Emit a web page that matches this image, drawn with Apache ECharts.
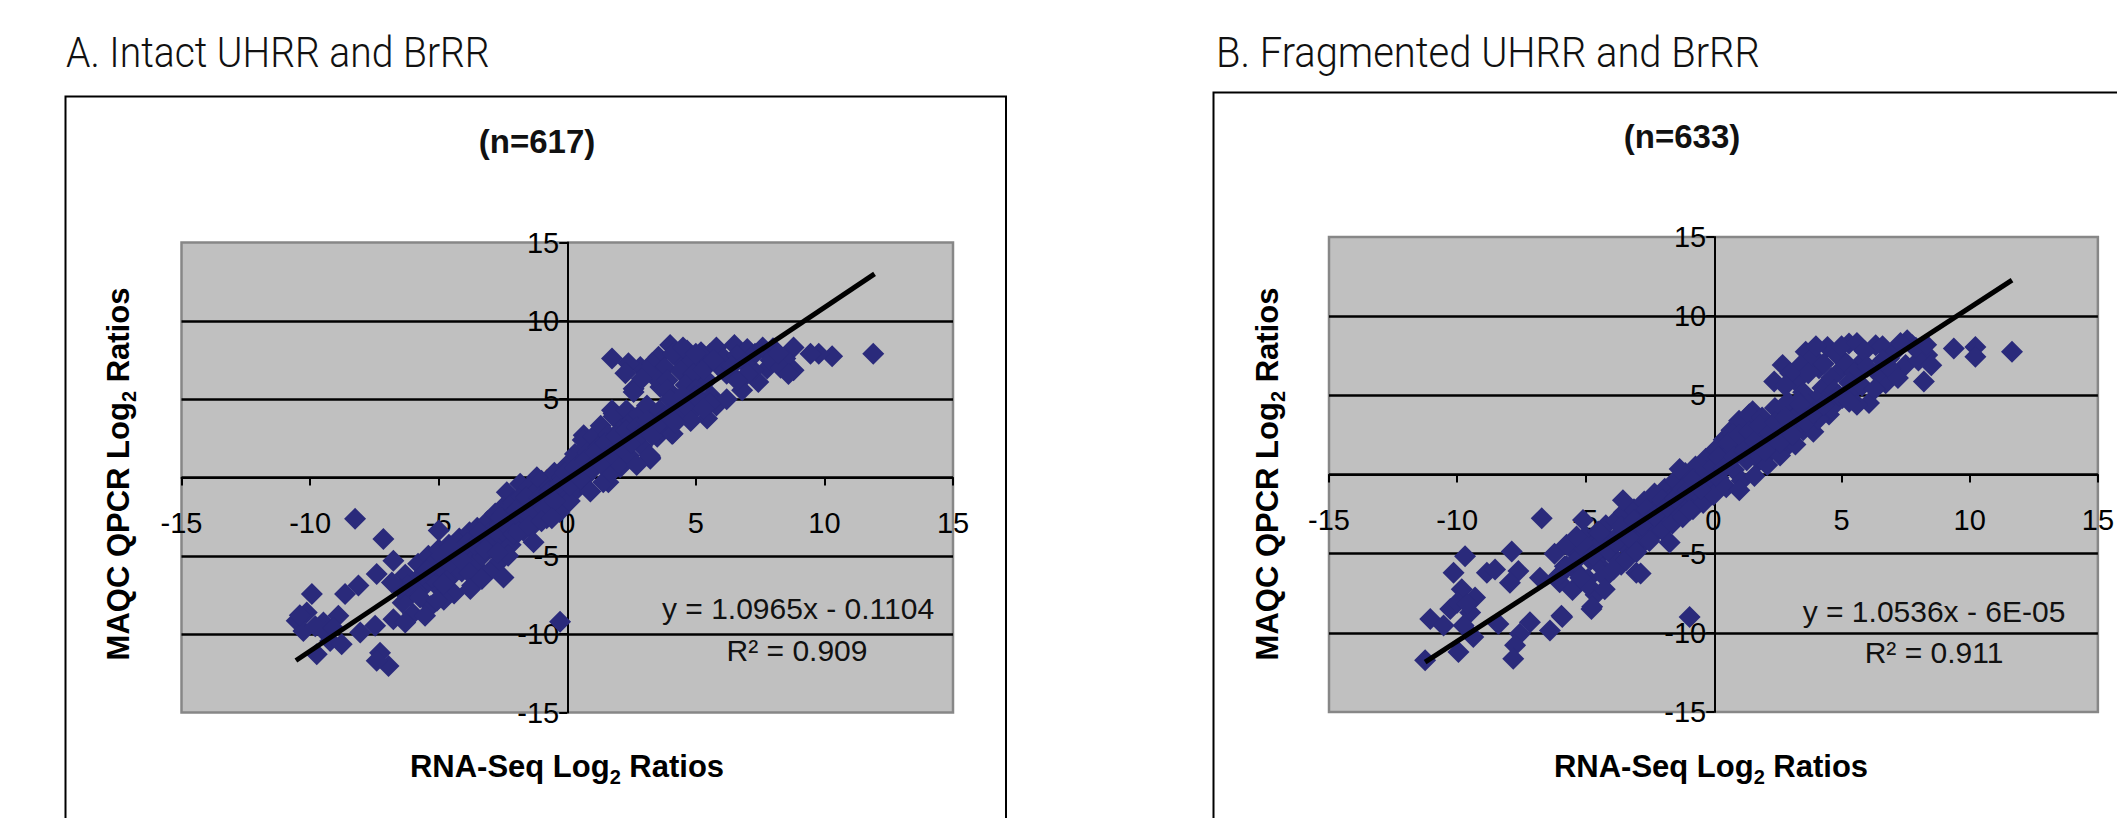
<!DOCTYPE html>
<html>
<head>
<meta charset="utf-8">
<script src="https://cdn.jsdelivr.net/npm/echarts@6.0.0/dist/echarts.min.js"></script>
<style>
html,body{margin:0;padding:0;background:#fff;}
#chart{width:2117px;height:818px;}
</style>
</head>
<body>
<div id="chart"></div>
<script>
// ---------- data ----------
const panelTitles = ['A. Intact UHRR and BrRR', 'B. Fragmented UHRR and BrRR'];
const countLabels = ['(n=617)', '(n=633)'];
const equationLabels = ['y = 1.0965x - 0.1104', 'y = 1.0536x - 6E-05'];
const r2Labels = ['R\u00B2 = 0.909', 'R\u00B2 = 0.911'];
const axisTicks = [-15, -10, -5, 0, 5, 10, 15];
const slopes = [1.0965, 1.0536];
const intercepts = [-0.1104, -0.00006];
const trendXA = [-10.55, 11.95];
const trendXB = [-11.25, 11.65];

const pointsA = [
  // upper-right cluster
  [11.9,7.9],[10.3,7.74],[9.78,7.9],[9.46,7.9],[8.8,8.3],[8.8,6.85],[8.48,7.6],[8.0,8.25],[7.43,6.1],[6.8,5.57],
  [7.77,6.95],[7.24,6.85],[4.0,8.45],[4.66,8.1],[6.5,8.45],[7.0,8.2],[5.56,7.9],[3.55,7.7],[2.84,7.06],[2.38,7.3],
  [2.26,6.65],[2.58,5.67],[3.62,5.78],[4.07,5.25],[5.44,6.2],[6.2,6.63],[1.74,7.6],
  [3.3,7.3],[3.8,7.0],[4.3,7.6],[4.8,7.4],[5.2,8.0],[5.8,8.3],[6.1,7.6],[6.6,7.8],[7.3,7.9],[7.6,8.3],
  [3.4,6.4],[3.9,6.2],[4.4,6.8],[4.9,6.6],[5.3,6.9],[5.9,7.1],[6.4,7.1],[4.6,5.9],[5.0,5.6],[5.6,5.2],
  [3.9,5.6],[4.3,5.0],[3.1,6.8],[2.9,6.3],[4.1,7.9],[4.5,8.3],[5.0,7.9],[5.7,7.5],[6.9,7.3],[7.9,7.5],
  [8.3,7.0],[8.6,6.6],[8.2,7.9],[7.0,6.6],[6.6,6.2],[5.2,4.8],[5.8,4.6],[6.2,5.0],
  [1.74,4.29],[5.44,3.76],[4.79,4.08],[5.56,4.72],[4.07,2.8],[3.23,1.2],[2.45,3.22],[2.06,0.66],
  [2.58,5.46],[1.8,4.08],[2.32,3.65],[0.64,2.69],[1.28,2.58],[3.23,1.3],[1.6,-0.3],[0.38,1.41],
  [-2.35,-0.94],[-1.83,-0.4],[-1.18,0.02],[-0.27,-1.9],
  // main diagonal band
  [-6.3,-6.2],[-6.1,-7.5],[-5.9,-6.6],[-5.8,-5.5],[-5.6,-7.0],[-5.5,-6.1],[-5.4,-5.0],[-5.2,-6.5],[-5.1,-5.6],
  [-5.0,-4.6],[-4.9,-7.2],[-4.8,-5.9],[-4.7,-5.2],[-4.6,-4.3],[-4.5,-6.3],[-4.4,-4.8],[-4.3,-5.6],[-4.2,-3.9],
  [-4.1,-6.0],[-4.0,-4.4],[-3.9,-5.1],[-3.8,-3.5],[-3.7,-4.7],[-3.6,-5.6],[-3.5,-3.2],[-3.4,-4.1],[-3.3,-5.0],
  [-3.2,-3.7],[-3.1,-2.8],[-3.0,-4.5],[-2.9,-3.3],[-2.8,-2.3],[-2.7,-4.0],[-2.6,-3.0],[-2.5,-1.9],[-2.4,-3.6],
  [-2.3,-2.6],[-2.2,-4.3],[-2.1,-1.6],[-2.0,-3.0],[-1.9,-2.2],[-1.8,-1.2],[-1.7,-3.4],[-1.6,-2.5],[-1.5,-0.6],
  [-1.4,-1.7],[-1.3,-3.0],[-1.2,-0.9],[-1.1,-2.1],[-1.0,-0.2],[-0.9,-1.4],[-0.8,-2.6],[-0.7,-0.6],[-0.6,-1.8],
  [-0.5,0.3],[-0.4,-1.1],[-0.3,-2.2],[-0.2,0.0],[-0.1,-0.8],[0.0,0.8],[0.1,-1.5],[0.2,0.2],[0.3,1.5],[0.4,-0.7],
  [0.5,0.9],[0.6,2.4],[0.7,0.0],[0.8,1.6],[0.9,-0.9],[1.0,2.6],[1.1,0.7],[1.2,1.9],[1.3,3.3],[1.4,-0.3],
  [1.5,1.2],[1.6,2.7],[1.7,0.3],[1.8,3.9],[1.9,1.8],[2.0,0.9],[2.1,3.1],[2.2,2.2],[2.3,4.3],[2.4,1.4],
  [2.5,3.6],[2.6,2.6],[2.7,0.8],[2.8,4.0],[2.9,2.0],[3.0,3.0],[3.1,4.6],[3.2,1.4],[3.3,3.6],[3.5,2.6],
  [3.6,4.3],[3.8,3.2],[4.0,5.0],[4.1,2.8],[4.3,4.0],[4.6,4.6],[4.8,3.6],[5.0,5.2],[5.3,4.4],
  [-3.7,-6.9],[-3.3,-6.4],[-2.9,-5.8],[-2.6,-5.3],[-2.3,-5.0],[-4.4,-7.4],[-4.8,-7.8],[-5.3,-8.2],[-6.4,-8.0],[-6.0,-8.7],
  [-5.7,-6.3],[-5.3,-5.6],[-4.9,-5.0],[-4.6,-5.5],[-4.2,-4.7],[-3.9,-4.2],[-3.6,-4.3],[-3.4,-3.5],[-3.1,-3.9],
  [-2.8,-3.4],[-2.6,-2.5],[-2.3,-3.2],[-2.0,-2.1],[-1.8,-2.6],[-1.6,-1.3],[-1.4,-2.5],[-1.1,-1.3],[-0.9,-2.0],
  [-0.7,-0.9],[-0.5,-1.5],[-0.3,-0.4],[-0.1,0.3],[0.1,-0.5],[0.3,0.6],[0.5,-0.1],[0.7,1.1],[0.9,0.6],[1.1,1.6],
  [1.3,0.9],[1.5,2.2],[1.7,1.5],[1.9,2.6],[2.1,1.9],[2.3,3.0],[2.5,2.2],[2.7,3.2],[2.9,2.8],[3.1,3.6],[3.3,2.7],
  [3.6,3.5],[3.9,4.0],[4.2,3.5],[4.5,5.2],[-5.9,-7.2],[-6.2,-6.9],[-6.5,-7.1],[-4.7,-6.6],[-4.1,-5.3],[-3.8,-6.1],
  [-3.2,-4.6],[-2.7,-4.8],[-2.1,-3.6],[-1.9,-3.5],[-1.5,-3.1],[-1.0,-2.8],[-0.6,-2.6],
  // lower-left scatter
  [-8.25,-2.64],[-7.15,-3.92],[-6.76,-5.31],[-5.0,-3.39],[-7.41,-6.16],[-8.12,-6.9],[-8.64,-7.44],[-9.93,-7.44],
  [-6.82,-6.7],[-10.13,-8.62],[-10.52,-9.15],[-8.9,-8.83],[-9.48,-9.26],[-8.05,-9.9],[-7.47,-9.47],[-6.76,-9.04],
  [-6.3,-9.26],[-10.26,-9.79],[-9.74,-11.28],[-9.22,-10.43],[-8.77,-10.64],[-7.28,-11.18],[-6.95,-12.03],
  [-7.41,-11.7],[-5.53,-8.83],[-5.46,-5.95],[-3.77,-7.12],[-3.32,-6.48],[-2.48,-6.38],[-4.55,-4.46],[-5.72,-7.66],
  [-5.07,-7.87],[-4.81,-6.8],[-1.31,-4.14],[-0.28,-9.2],[-9.8,-9.5],[-9.4,-9.9],[-9.1,-9.6],[-10.4,-8.8]
];

const pointsB = [
  // upper-right cluster
  [11.65,7.75],[10.22,8.06],[10.22,7.44],[9.38,7.96],[8.34,7.54],[8.21,5.88],[7.76,8.17],[7.56,8.48],[6.07,4.52],
  [6.72,5.77],[6.33,8.17],[5.29,8.27],[4.45,8.06],[3.6,7.75],[2.7,6.92],[2.37,5.88],[3.22,5.88],[4.25,5.46],
  [5.42,5.25],[4.9,6.5],[4.12,6.71],[5.81,7.13],[6.85,7.33],[7.5,6.92],[4.51,3.79],[3.86,3.38],[3.22,4.21],
  [2.96,1.92],[2.31,2.75],[1.53,4.0],[1.27,3.38],[1.79,0.88],[4.38,4.73],[5.03,4.83],
  [3.9,7.4],[4.0,8.1],[4.8,7.6],[5.0,8.1],[5.6,8.3],[5.9,7.8],[6.6,8.1],[7.1,7.8],[7.3,8.3],[8.0,7.2],[8.5,6.9],
  [3.4,6.9],[3.7,6.4],[4.3,7.0],[4.6,6.1],[5.2,7.0],[5.5,6.4],[6.0,6.8],[6.4,6.4],[6.9,6.7],[7.2,6.1],
  [3.0,6.4],[2.8,5.6],[3.5,5.2],[4.0,4.7],[4.7,5.3],[5.3,5.8],[5.8,5.6],[6.3,5.4],[3.3,4.6],[5.6,4.4],
  [6.6,7.2],[7.9,8.0],[8.3,8.2],
  // main diagonal band
  [-6.2,-5.0],[-6.0,-6.8],[-5.8,-5.8],[-5.6,-4.6],[-5.5,-7.3],[-5.3,-6.2],[-5.2,-5.0],[-5.0,-3.9],[-4.9,-6.6],
  [-4.8,-5.4],[-4.7,-4.4],[-4.6,-7.6],[-4.5,-3.6],[-4.4,-5.8],[-4.3,-4.9],[-4.2,-3.2],[-4.1,-6.3],[-4.0,-4.2],
  [-3.9,-5.2],[-3.8,-2.9],[-3.7,-3.8],[-3.6,-5.7],[-3.5,-2.4],[-3.4,-4.6],[-3.3,-3.3],[-3.2,-5.0],[-3.1,-2.2],
  [-3.0,-3.9],[-2.9,-2.9],[-2.8,-4.4],[-2.7,-1.7],[-2.6,-3.4],[-2.5,-2.4],[-2.4,-3.9],[-2.3,-1.2],[-2.2,-3.0],
  [-2.1,-2.0],[-2.0,-3.5],[-1.9,-0.9],[-1.8,-2.6],[-1.7,-1.6],[-1.6,-3.1],[-1.5,-0.4],[-1.4,-2.2],[-1.3,-1.2],
  [-1.2,-2.7],[-1.1,0.1],[-1.0,-1.7],[-0.9,-0.8],[-0.8,-2.2],[-0.7,0.5],[-0.6,-1.2],[-0.5,-0.3],[-0.4,-1.8],
  [-0.3,1.0],[-0.2,-0.7],[-0.1,0.3],[0.0,-1.3],[0.1,1.6],[0.2,-0.2],[0.3,0.8],[0.4,2.2],[0.5,-0.8],[0.6,1.3],
  [0.7,2.8],[0.8,0.3],[0.9,1.8],[1.0,3.4],[1.1,-0.4],[1.2,2.3],[1.3,0.9],[1.4,3.8],[1.5,1.7],[1.6,-0.1],
  [1.7,2.9],[1.8,1.2],[1.9,3.6],[2.0,2.1],[2.1,0.6],[2.2,3.1],[2.3,1.6],[2.4,4.2],[2.5,2.5],[2.6,1.2],
  [2.7,3.4],[2.8,2.2],[2.9,4.6],[3.0,3.0],[3.2,1.9],[3.3,3.8],[3.5,2.8],[3.7,4.4],[3.9,2.7],[4.1,3.5],
  [4.6,4.2],[4.9,5.0],[5.3,4.6],[0.75,2.54],[-0.93,-2.25],[-3.53,-1.63],[-2.75,-3.92],
  [-5.9,-6.2],[-5.4,-5.5],[-5.1,-4.6],[-4.7,-5.1],[-4.4,-4.3],[-4.1,-4.8],[-3.8,-4.3],[-3.6,-3.3],[-3.3,-4.0],
  [-3.1,-2.9],[-2.8,-3.2],[-2.6,-2.2],[-2.3,-2.6],[-2.0,-1.6],[-1.8,-2.0],[-1.5,-1.5],[-1.2,-0.9],[-1.0,-1.0],
  [-0.8,-0.3],[-0.5,-0.9],[-0.3,0.2],[0.0,0.5],[0.2,1.1],[0.4,0.4],[0.6,2.0],[0.8,1.1],[1.0,2.5],[1.2,1.5],
  [1.4,2.7],[1.6,2.1],[1.8,3.1],[2.0,1.5],[2.2,2.6],[2.4,3.3],[2.6,2.0],[2.8,3.6],[3.1,2.5],[3.4,4.4],[3.6,3.3],
  [3.9,3.9],[4.3,4.4],[-4.9,-7.0],[-4.3,-6.4],[-3.9,-6.0],[-3.4,-5.4],[-3.0,-4.9],[-2.5,-4.2],
  // lower-left scatter
  [-6.7,-2.77],[-7.87,-4.86],[-9.69,-5.17],[-10.14,-6.21],[-8.84,-6.21],[-8.52,-6.0],[-7.61,-6.1],[-7.94,-6.83],
  [-6.77,-6.52],[-5.73,-4.44],[-9.82,-7.25],[-9.3,-7.77],[-10.27,-8.5],[-11.05,-9.13],[-10.53,-9.54],[-9.49,-8.71],
  [-9.75,-9.54],[-9.37,-10.27],[-9.95,-11.21],[-11.25,-11.73],[-8.39,-9.44],[-7.16,-9.33],[-7.55,-10.06],
  [-7.74,-10.79],[-7.81,-11.63],[-6.38,-9.85],[-5.93,-8.92],[-4.76,-8.5],[-4.24,-7.25],[-3.01,-6.21],[-5.2,-6.52],
  [-6.12,-6.52],[-5.73,-5.79],[-5.09,-4.33],[-4.44,-3.71],[-0.93,-9.0],[-2.84,-6.25],[-1.71,-4.29],[-4.73,-8.36],
  [-5.9,-9.0],[-5.09,-2.88],[-5.34,-3.92],[1.01,-1.0],[-1.32,0.35],[-10.0,-8.1],[-9.6,-8.2]
];

// ---------- chart ----------
const navy = '#2A2A7B';
const textFont = 'Liberation Sans, Arial, sans-serif';
const trendA = trendXA.map(x => [x, slopes[0] * x + intercepts[0]]);
const trendB = trendXB.map(x => [x, slopes[1] * x + intercepts[1]]);

const grids = [
  { left: 181.5, top: 242.5, width: 771.5, height: 470 },
  { left: 1329, top: 237, width: 770.5, height: 475 }
];

// axes cross at zero, which lies at the middle of each symmetric range
function makeX(i) {
  return {
    gridIndex: i, type: 'value', min: axisTicks[0], max: axisTicks[axisTicks.length - 1], interval: 5,
    position: 'bottom', offset: -grids[i].height / 2,
    axisLine: { onZero: false, lineStyle: { color: '#000', width: 2 } },
    axisTick: { show: true, inside: false, length: 8, lineStyle: { color: '#000', width: 2 } },
    axisLabel: { fontSize: 29, color: '#000', fontFamily: textFont, margin: 31 },
    splitLine: { show: false }
  };
}
function makeY(i) {
  return {
    gridIndex: i, type: 'value', min: axisTicks[0], max: axisTicks[axisTicks.length - 1], interval: 5,
    position: 'left', offset: -grids[i].width / 2,
    axisLine: { onZero: false, lineStyle: { color: '#000', width: 2 } },
    axisTick: { show: true, inside: false, length: 8, lineStyle: { color: '#000', width: 2 } },
    axisLabel: { fontSize: 29, color: '#000', fontFamily: textFont, margin: 8 },
    splitLine: { show: true, showMinLine: false, showMaxLine: false, lineStyle: { color: '#000', width: 2.5 } }
  };
}

const richAxis = {
  a: { fontSize: 31, fontWeight: 'bold', fontFamily: textFont, fill: '#000', color: '#000', lineHeight: 42, verticalAlign: 'middle' },
  s: { fontSize: 20, fontWeight: 'bold', fontFamily: textFont, fill: '#000', color: '#000', lineHeight: 42, verticalAlign: 'bottom' }
};
function plainText(x, y, text, size, weight, family, align, sx) {
  return { type: 'text', x: x, y: y, z: 50, scaleX: sx || 1,
    style: { text: text, fontSize: size, fontWeight: weight, fontFamily: family, fill: '#111',
      textAlign: align || 'center', textVerticalAlign: 'middle' } };
}
function axisTitle(x, y, rotation) {
  return { type: 'text', x: x, y: y, rotation: rotation, z: 50,
    style: { text: '{a|' + (rotation ? 'MAQC QPCR Log' : 'RNA-Seq Log') + '}{s|2}{a| Ratios}',
      rich: richAxis, textAlign: 'center', textVerticalAlign: 'middle', fill: '#000' } };
}

const option = {
  animation: false,
  backgroundColor: '#ffffff',
  grid: grids.map(g => Object.assign({ show: true, backgroundColor: '#C0C0C0', borderColor: '#878787', borderWidth: 2.5, containLabel: false }, g)),
  xAxis: [makeX(0), makeX(1)],
  yAxis: [makeY(0), makeY(1)],
  series: [
    { type: 'scatter', xAxisIndex: 0, yAxisIndex: 0, data: pointsA, symbol: 'diamond', symbolSize: 22,
      itemStyle: { color: navy, opacity: 1 }, z: 2, silent: true },
    { type: 'line', xAxisIndex: 0, yAxisIndex: 0, data: trendA, symbol: 'none', showSymbol: false,
      lineStyle: { color: '#000', width: 5 }, z: 3, silent: true },
    { type: 'scatter', xAxisIndex: 1, yAxisIndex: 1, data: pointsB, symbol: 'diamond', symbolSize: 22,
      itemStyle: { color: navy, opacity: 1 }, z: 2, silent: true },
    { type: 'line', xAxisIndex: 1, yAxisIndex: 1, data: trendB, symbol: 'none', showSymbol: false,
      lineStyle: { color: '#000', width: 5 }, z: 3, silent: true }
  ],
  graphic: { elements: [
    { type: 'rect', shape: { x: 65.5, y: 96.5, width: 940.5, height: 800 }, z: 0,
      style: { fill: 'none', stroke: '#000', lineWidth: 2 } },
    { type: 'rect', shape: { x: 1213.5, y: 92.5, width: 1000, height: 800 }, z: 0,
      style: { fill: 'none', stroke: '#000', lineWidth: 2 } },
    plainText(66, 53, panelTitles[0], 42, 300, 'Roboto, sans-serif', 'left', 0.93),
    plainText(1216, 53, panelTitles[1], 42, 300, 'Roboto, sans-serif', 'left', 0.95),
    plainText(537, 141, countLabels[0], 33, 'bold', textFont),
    plainText(1682, 136, countLabels[1], 33, 'bold', textFont),
    plainText(798, 608, equationLabels[0], 30, 'normal', textFont),
    plainText(797, 650, r2Labels[0], 30, 'normal', textFont),
    plainText(1934, 611, equationLabels[1], 30, 'normal', textFont),
    plainText(1934, 652, r2Labels[1], 30, 'normal', textFont),
    axisTitle(567, 766, 0),
    axisTitle(118, 474, Math.PI / 2),
    axisTitle(1711, 766, 0),
    axisTitle(1267, 474, Math.PI / 2)
  ] }
};

const chart = echarts.init(document.getElementById('chart'), null, { renderer: 'svg', width: 2117, height: 818 });
chart.setOption(option);
</script>
</body>
</html>
